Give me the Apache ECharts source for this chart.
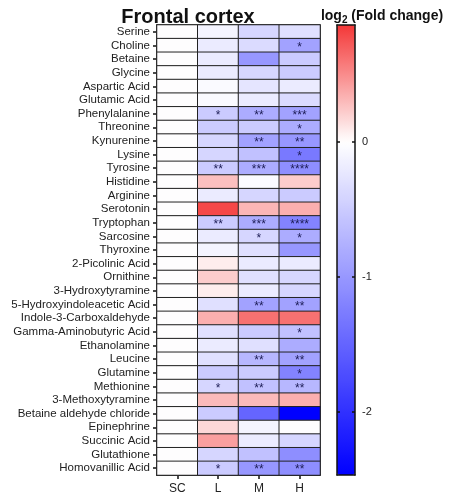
<!DOCTYPE html>
<html>
<head>
<meta charset="utf-8">
<script src="https://cdn.jsdelivr.net/npm/echarts@6/dist/echarts.min.js"></script>
<style>
  html, body { margin: 0; padding: 0; background: #fff; }
  #chart { width: 450px; height: 495px; }
</style>
</head>
<body>
<div id="chart"></div>
<script>
// metabolites, top to bottom
const metabolites = [
  'Serine', 'Choline', 'Betaine', 'Glycine', 'Aspartic Acid', 'Glutamic Acid',
  'Phenylalanine', 'Threonine', 'Kynurenine', 'Lysine', 'Tyrosine', 'Histidine',
  'Arginine', 'Serotonin', 'Tryptophan', 'Sarcosine', 'Thyroxine', '2-Picolinic Acid',
  'Ornithine', '3-Hydroxytyramine', '5-Hydroxyindoleacetic Acid', 'Indole-3-Carboxaldehyde',
  'Gamma-Aminobutyric Acid', 'Ethanolamine', 'Leucine', 'Glutamine', 'Methionine',
  '3-Methoxytyramine', 'Betaine aldehyde chloride', 'Epinephrine', 'Succinic Acid',
  'Glutathione', 'Homovanillic Acid'
];
const groups = ['SC', 'L', 'M', 'H'];

// log2 fold change per group
const valSC = [0,0,0,0,0,0,0,0,0,0,0,0,0,0,0,0,0,0,0,0,0,0,0,0,0,0,0,0,0,0,0,0,0];
const valL = [-0.1,-0.2,-0.2,-0.2,-0.05,-0.05,-0.5,-0.5,-0.4,-0.4,-0.5,0.28,
              -0.2,0.8,-0.5,-0.2,-0.1,0.08,0.22,0.08,-0.3,0.35,
              -0.3,-0.2,-0.3,-0.5,-0.4,0.3,-0.5,0.17,0.42,-0.4,-0.5];
const valM = [-0.4,-0.35,-1.0,-0.4,-0.25,-0.2,-0.8,-0.5,-0.9,-0.6,-0.8,-0.05,
              -0.4,0.32,-0.8,-0.4,-0.3,-0.2,-0.3,-0.2,-0.9,0.62,
              -0.5,-0.3,-0.7,-0.5,-0.6,0.3,-1.5,-0.1,-0.2,-0.6,-1.0];
const valH = [-0.3,-0.9,-0.5,-0.5,-0.2,-0.35,-0.9,-0.8,-1.0,-1.3,-1.1,0.22,
              -0.5,0.35,-1.2,-0.8,-1.0,-0.2,-0.4,-0.4,-0.9,0.62,
              -0.6,-0.8,-0.9,-1.2,-0.7,0.35,-2.47,0,-0.4,-1.1,-1.1];

// significance marks
const starsL = ['','','','','','','*','','','','**','','','','**','','','','','','','','','','','','*','','','','','','*'];
const starsM = ['','','','','','','**','','**','','***','','','','***','*','','','','','**','','','','**','','**','','','','','','**'];
const starsH = ['','*','','','','','***','*','**','*','****','','','','****','*','','','','','**','','*','','**','*','**','','','','','','**'];

const vMin = -2.47, vMax = 0.87;
const colorTicks = [-2, -1, 0];

const allVals = [valSC, valL, valM, valH];
const allStars = [metabolites.map(() => ''), starsL, starsM, starsH];
let data = [];
for (let c = 0; c < groups.length; c++) {
  for (let r = 0; r < metabolites.length; r++) {
    data.push([c, r, allVals[c][r], allStars[c][r]]);
  }
}

// blue -> white (at 0) -> red ramp
function ramp(n) {
  let out = [];
  for (let i = 0; i <= n; i++) {
    let v = vMin + (vMax - vMin) * i / n;
    let r, g, b;
    if (v < 0) {
      let t = v / vMin;
      r = 255 * (1 - t); g = 255 * (1 - t); b = 255;
    } else {
      let t = v / vMax;
      r = 255 - (255 - 244) * t; g = 255 - (255 - 56) * t; b = 255 - (255 - 56) * t;
    }
    out.push('rgb(' + Math.round(r) + ',' + Math.round(g) + ',' + Math.round(b) + ')');
  }
  return out;
}

let myChart = echarts.init(document.getElementById('chart'));
const font = 'Liberation Sans, Arial, sans-serif';

let option = {
  animation: false,
  textStyle: { fontFamily: font },
  title: [
    {
      text: 'Frontal cortex',
      left: 183, top: 2, textAlign: 'center',
      textStyle: { fontSize: 20, fontWeight: 'bold', color: '#111', fontFamily: font }
    },
    {
      text: 'log{sub|2} (Fold change)',
      left: 377, top: 3, textAlign: 'center',
      textStyle: {
        fontSize: 14, fontWeight: 'bold', color: '#111', fontFamily: font,
        rich: { sub: { fontSize: 10, fontWeight: 'bold', verticalAlign: 'bottom', padding: [7, 0, 0, 0] } }
      }
    }
  ],
  grid: [
    { left: 157, top: 25, width: 163, height: 450, show: true, borderColor: '#111', borderWidth: 1.5, backgroundColor: 'transparent' },
    { left: 337, top: 25, width: 18, height: 450, show: false }
  ],
  xAxis: [
    {
      type: 'category', data: groups, gridIndex: 0, position: 'bottom',
      axisLine: { lineStyle: { color: '#111', width: 1.5 } },
      axisTick: { show: true, alignWithLabel: true, length: 4, lineStyle: { color: '#111', width: 1.5 } },
      axisLabel: { fontSize: 12, color: '#222', margin: 8 },
      splitLine: { show: false }
    },
    {
      type: 'value', gridIndex: 1, min: 0, max: 1, position: 'bottom', z: 10,
      axisLine: { show: true, onZero: false, lineStyle: { color: '#111', width: 1.5 } },
      axisTick: { show: false }, axisLabel: { show: false }, splitLine: { show: false }
    },
    {
      type: 'value', gridIndex: 1, min: 0, max: 1, position: 'top', z: 10,
      axisLine: { show: true, onZero: false, lineStyle: { color: '#111', width: 1.5 } },
      axisTick: { show: false }, axisLabel: { show: false }, splitLine: { show: false }
    }
  ],
  yAxis: [
    {
      type: 'category', data: metabolites, gridIndex: 0, inverse: true,
      axisLine: { lineStyle: { color: '#111', width: 1.5 } },
      axisTick: { show: true, alignWithLabel: true, length: 4, lineStyle: { color: '#111', width: 1.5 } },
      axisLabel: { fontSize: 11.5, color: '#222', margin: 7, interval: 0 },
      splitLine: { show: false }
    },
    {
      type: 'value', gridIndex: 1, min: vMin, max: vMax, position: 'left', z: 10,
      axisLine: { show: true, onZero: false, lineStyle: { color: '#111', width: 1.5 } },
      axisTick: { show: true, inside: true, length: 3, customValues: colorTicks, lineStyle: { color: '#111', width: 1.5 } },
      axisLabel: { show: false }, splitLine: { show: false }
    },
    {
      type: 'value', gridIndex: 1, min: vMin, max: vMax, position: 'right', z: 10,
      axisLine: { show: true, onZero: false, lineStyle: { color: '#111', width: 1.5 } },
      axisTick: { show: true, inside: true, length: 3, customValues: colorTicks, lineStyle: { color: '#111', width: 1.5 } },
      axisLabel: { show: true, customValues: colorTicks, fontSize: 11, color: '#222', margin: 7 },
      splitLine: { show: false }
    }
  ],
  visualMap: {
    type: 'continuous', min: vMin, max: vMax, dimension: 2, seriesIndex: 0,
    calculable: false, left: 337, top: 25, padding: 0,
    itemWidth: 18, itemHeight: 450, text: null,
    inRange: { color: ramp(120) }
  },
  series: [
    {
      type: 'heatmap', xAxisIndex: 0, yAxisIndex: 0,
      data: data,
      itemStyle: { borderColor: '#222', borderWidth: 1 },
      label: {
        show: true, fontSize: 12, color: '#1c1c55', offset: [0, 2],
        formatter: (p) => p.data[3]
      },
      emphasis: { disabled: true }
    }
  ]
};
myChart.setOption(option);
</script>
</body>
</html>
